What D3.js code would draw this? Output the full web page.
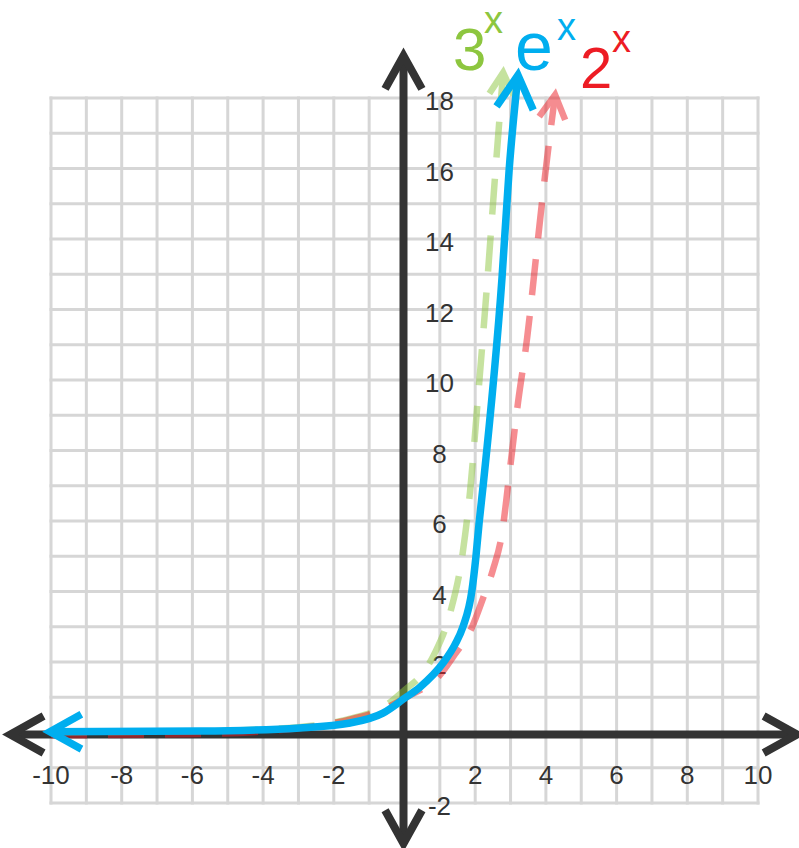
<!DOCTYPE html>
<html>
<head>
<meta charset="utf-8">
<script src="https://cdn.jsdelivr.net/npm/d3@7"></script>
<style>
  html, body { margin: 0; padding: 0; background: #fff; }
  svg { display: block; font-family: "Liberation Sans", Arial, sans-serif; }
</style>
</head>
<body>
<div id="chart"></div>
<script>
// ---- data ----
var xDomain = [-10, 10];
var yDomain = [-2, 18];
var gridX = d3.range(-10, 11);
var gridY = d3.range(-2, 19);
var xTicks = [-10, -8, -6, -4, -2, 2, 4, 6, 8, 10];
var yTicks = [-2, 2, 4, 6, 8, 10, 12, 14, 16, 18];

// 3^x (green, dashed)
var curve3 = [[-10, 0], [-6, 0.03], [-3, 0.15], [-1.5, 0.4], [-0.6, 0.72], [0, 1.2],
  [0.52, 1.69], [0.86, 2.26], [1.29, 3.39], [1.65, 5.12], [1.85, 6.79], [2.08, 9.52],
  [2.33, 12.64], [2.56, 15.76], [2.79, 18.72]];
// 2^x (red, dashed)
var curve2 = [[-10, -0.08], [-6, -0.05], [-3, 0.12], [-1.5, 0.38], [-0.6, 0.66], [0.07, 1.01],
  [1.0, 1.63], [1.37, 2.14], [1.91, 2.99], [2.2, 3.75], [2.5, 4.61], [2.75, 5.6],
  [2.98, 7.45], [3.21, 9.35], [3.47, 11.2], [3.75, 13.76], [3.97, 15.75], [4.26, 18.09]];
// e^x (blue, solid)
var curveE = [[-10.03, 0.02], [-5.78, 0.04], [-2.96, 0.13], [-1.54, 0.27], [-0.61, 0.55],
  [0, 0.97], [0.44, 1.29], [1.09, 1.97], [1.43, 2.5], [1.65, 2.99], [1.91, 4.04],
  [2.02, 4.98], [2.11, 5.94], [2.22, 6.96], [2.76, 12.92], [2.96, 15.96], [3.21, 18.65]];

// ---- layout ----
var W = 799, H = 848;
var x = d3.scaleLinear().domain(xDomain).range([51, 758]);
var y = d3.scaleLinear().domain(yDomain).range([803, 98]);
var axisColor = "#333333";

var svg = d3.select("#chart").append("svg")
  .attr("width", W).attr("height", H);

// grid
var grid = svg.append("g").attr("stroke", "#d6d6d6").attr("stroke-width", 3);
grid.selectAll("line.gx").data(gridX).enter().append("line")
  .attr("class", "gx")
  .attr("x1", function(d){ return x(d); }).attr("x2", function(d){ return x(d); })
  .attr("y1", y(yDomain[0]) + 1.5).attr("y2", y(yDomain[1]) - 1.5);
grid.selectAll("line.gy").data(gridY).enter().append("line")
  .attr("class", "gy")
  .attr("y1", function(d){ return y(d); }).attr("y2", function(d){ return y(d); })
  .attr("x1", x(xDomain[0]) - 1.5).attr("x2", x(xDomain[1]) + 1.5);

// chevron arrow head: tip + point behind it (pixels)
var chevron = function(tip, prev, len, ang){
  var dx = prev[0] - tip[0], dy = prev[1] - tip[1];
  var d = Math.hypot(dx, dy), ux = dx / d, uy = dy / d;
  var a = ang * Math.PI / 180, c = Math.cos(a), s = Math.sin(a);
  var p1 = [tip[0] + len * (ux * c - uy * s), tip[1] + len * (ux * s + uy * c)];
  var p2 = [tip[0] + len * (ux * c + uy * s), tip[1] + len * (-ux * s + uy * c)];
  return "M" + p1 + "L" + tip + "L" + p2;
};

// axes
var ax = svg.append("g").attr("stroke", axisColor).attr("stroke-width", 8).attr("fill", "none");
var x0 = x(0) - 1, y0 = y(0) + 2;
var xReach = [x(-11.15), x(11.1)];
var yReach = [y(-3.15), y(19.2)];
ax.append("line").attr("x1", xReach[0] + 3).attr("x2", xReach[1] - 3).attr("y1", y0).attr("y2", y0);
ax.append("line").attr("y1", yReach[0] - 3).attr("y2", yReach[1] + 3).attr("x1", x0).attr("x2", x0);
ax.append("path").attr("d", chevron([xReach[0], y0], [xReach[0] + 10, y0], 38, 29));
ax.append("path").attr("d", chevron([xReach[1], y0], [xReach[1] - 10, y0], 38, 29));
ax.append("path").attr("d", chevron([x0, yReach[1]], [x0, yReach[1] + 10], 38, 29));
ax.append("path").attr("d", chevron([x0, yReach[0]], [x0, yReach[0] - 10], 38, 29));

// tick labels
var labels = svg.append("g").attr("fill", axisColor).attr("font-size", 26);
labels.selectAll("text.xl").data(xTicks).enter().append("text")
  .attr("class", "xl")
  .attr("x", function(d){ return x(d); })
  .attr("y", y0 + 49)
  .attr("text-anchor", "middle")
  .text(function(d){ return d; });
labels.selectAll("text.yl").data(yTicks).enter().append("text")
  .attr("class", "yl")
  .attr("x", x0 + 36)
  .attr("y", function(d){ return y(d) + 12; })
  .attr("text-anchor", "middle")
  .text(function(d){ return d; });

// curves
var line = d3.line()
  .x(function(d){ return x(d[0]); })
  .y(function(d){ return y(d[1]); })
  .curve(d3.curveMonotoneX);

var tipOf = function(data, i, j){
  return [[x(data[i][0]), y(data[i][1])], [x(data[j][0]), y(data[j][1])]];
};

var drawCurve = function(data, color, opts){
  var g = svg.append("g").attr("opacity", opts.opacity || 1);
  g.append("path").datum(data)
    .attr("d", line)
    .attr("fill", "none")
    .attr("stroke", color)
    .attr("stroke-width", opts.width)
    .attr("stroke-dasharray", opts.dash || null);
  var n = data.length;
  var t = tipOf(data, n - 1, n - 2);
  g.append("path").attr("d", chevron(t[0], t[1], opts.head, 29))
    .attr("fill", "none").attr("stroke", color).attr("stroke-width", opts.width);
  if (opts.both) {
    var t2 = tipOf(data, 0, 1);
    g.append("path").attr("d", chevron(t2[0], t2[1], opts.head - 2, 29))
      .attr("fill", "none").attr("stroke", color).attr("stroke-width", opts.width);
  }
};

drawCurve(curve3, "#8dc63f", {width: 6.5, dash: "36 21", opacity: 0.5, head: 25});
drawCurve(curve2, "#ed1c24", {width: 6.5, dash: "36 21", opacity: 0.5, head: 27});
drawCurve(curveE, "#00aeef", {width: 7.5, head: 38, both: true});

// function names
var names = svg.append("g");
names.append("text").attr("x", 453).attr("y", 70).attr("font-size", 60).attr("fill", "#8dc63f").text("3");
names.append("text").attr("x", 484).attr("y", 33).attr("font-size", 38).attr("fill", "#8dc63f").text("x");
names.append("text").attr("x", 515).attr("y", 70).attr("font-size", 68).attr("fill", "#00aeef").text("e");
names.append("text").attr("x", 557).attr("y", 40).attr("font-size", 38).attr("fill", "#00aeef").text("x");
names.append("text").attr("x", 580).attr("y", 88).attr("font-size", 58).attr("fill", "#ed1c24").text("2");
names.append("text").attr("x", 612).attr("y", 52).attr("font-size", 38).attr("fill", "#ed1c24").text("x");
</script>
</body>
</html>
